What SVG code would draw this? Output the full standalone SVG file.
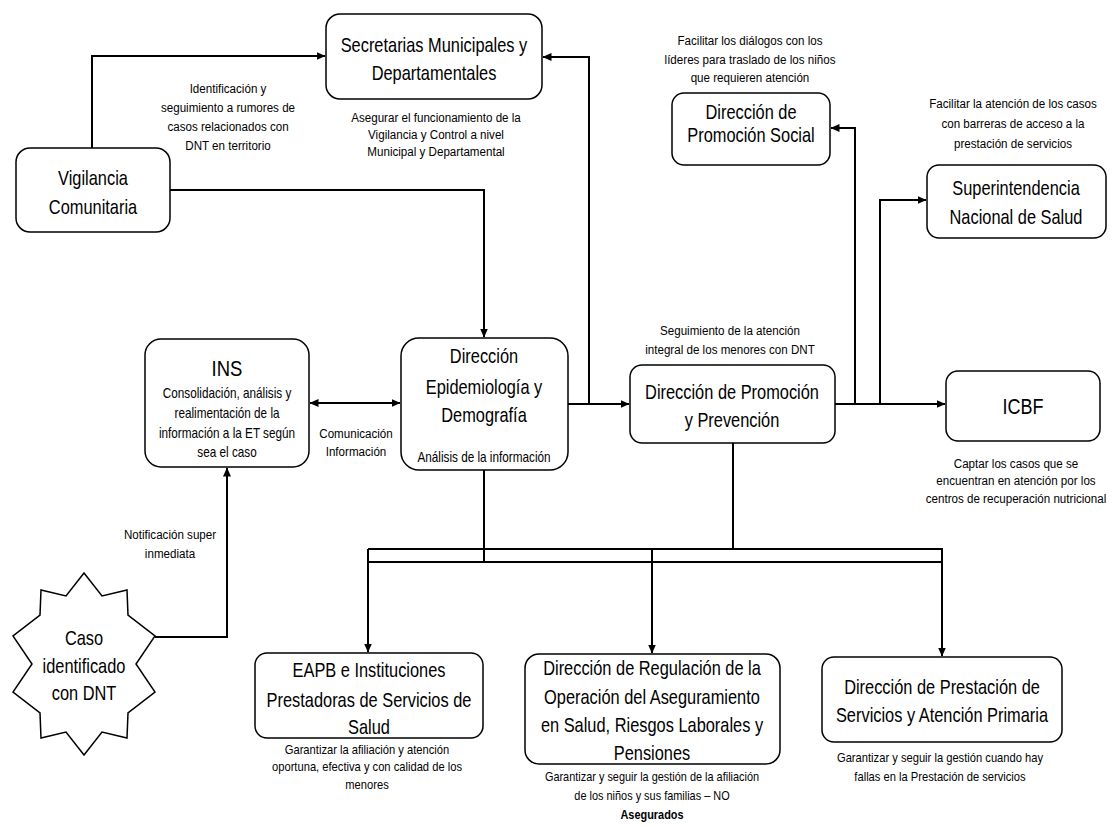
<svg xmlns="http://www.w3.org/2000/svg" width="1115" height="827" viewBox="0 0 1115 827">
<defs>
<marker id="ah" markerWidth="9" markerHeight="8" refX="8.5" refY="4" orient="auto-start-reverse" markerUnits="userSpaceOnUse">
<path d="M0,0 L9,4 L0,8 Z" fill="#000"/>
</marker>
<style>
text{font-family:"Liberation Sans",Arial,sans-serif;fill:#000;text-anchor:middle}
.box{fill:#fff;stroke:#000;stroke-width:1.5}
.t{font-size:20px}
.tl{font-size:22px}
.s{font-size:14px}
.c{font-size:13.5px}
.cb{font-size:13px}
.ln{fill:none;stroke:#000;stroke-width:2}
.ar{marker-end:url(#ah)}
</style>
</defs>
<rect width="1115" height="827" fill="#fff"/>

<g id="connectors">
<path class="ln ar" d="M92,148 V56 H325"/>
<path class="ln ar" d="M170,190 H484 V337"/>
<path class="ln ar" d="M567,404 H629"/>
<path class="ln ar" d="M589,404 V57 H543"/>
<path class="ln ar" d="M310,403 H400" marker-start="url(#ah)"/>
<path class="ln ar" d="M155,637 H227 V468"/>
<path class="ln ar" d="M835,404 H945"/>
<path class="ln ar" d="M855,404 V128 H831"/>
<path class="ln ar" d="M880,404 V200 H926"/>
<path class="ln" d="M733,443 V549"/>
<path class="ln" d="M484,470 V562"/>
<path class="ln" d="M368,549 H943"/>
<path class="ln" d="M368,562 H943"/>
<path class="ln ar" d="M368,549 V652"/>
<path class="ln ar" d="M652,549 V653"/>
<path class="ln ar" d="M942,549 V656"/>
</g>

<g id="lbl-vigilancia" transform="translate(228 0) scale(0.86 1)">
<text class="c" y="93">Identificación y</text>
<text class="c" y="112">seguimiento a rumores de</text>
<text class="c" y="131">casos relacionados con</text>
<text class="c" y="150">DNT en territorio</text>
</g>
<g id="lbl-comunicacion" transform="translate(356 0) scale(0.86 1)">
<text class="c" y="438">Comunicación</text>
<text class="c" y="456">Información</text>
</g>
<g id="lbl-notificacion" transform="translate(170 0) scale(0.86 1)">
<text class="c" y="539">Notificación super</text>
<text class="c" y="558">inmediata</text>
</g>

<g id="secretarias">
<rect class="box" x="326" y="14" width="216" height="85" rx="14"/>
<g transform="translate(434 0) scale(0.82 1)">
<text class="t" y="52">Secretarias Municipales y</text>
<text class="t" y="80">Departamentales</text>
</g>
<g transform="translate(436 0) scale(0.86 1)">
<text class="c" y="122">Asegurar el funcionamiento de la</text>
<text class="c" y="139">Vigilancia y Control a nivel</text>
<text class="c" y="156">Municipal y Departamental</text>
</g>
</g>

<g id="vigilancia">
<rect class="box" x="16" y="148" width="154" height="84" rx="14"/>
<g transform="translate(93 0) scale(0.82 1)">
<text class="t" y="185">Vigilancia</text>
<text class="t" y="214">Comunitaria</text>
</g>
</g>

<g id="promocion-social">
<g transform="translate(750 0) scale(0.86 1)">
<text class="c" y="45">Facilitar los diálogos con los</text>
<text class="c" y="64">líderes para traslado de los niños</text>
<text class="c" y="82">que requieren atención</text>
</g>
<rect class="box" x="672" y="93" width="158" height="72" rx="12"/>
<g transform="translate(751 0) scale(0.82 1)">
<text class="t" y="119">Dirección de</text>
<text class="t" y="142">Promoción Social</text>
</g>
</g>

<g id="superintendencia">
<g transform="translate(1013 0) scale(0.86 1)">
<text class="c" y="108">Facilitar la atención de los casos</text>
<text class="c" y="128">con barreras de acceso a la</text>
<text class="c" y="148">prestación de servicios</text>
</g>
<rect class="box" x="927" y="165" width="179" height="73" rx="12"/>
<g transform="translate(1016 0) scale(0.82 1)">
<text class="t" y="195">Superintendencia</text>
<text class="t" y="224">Nacional de Salud</text>
</g>
</g>

<g id="ins">
<rect class="box" x="145" y="339" width="164" height="128" rx="16"/>
<g transform="translate(227 0) scale(0.84 1)">
<text class="tl" y="376">INS</text>
<text class="s" y="398">Consolidación, análisis y</text>
<text class="s" y="418">realimentación  de la</text>
<text class="s" y="438">información a la ET según</text>
<text class="s" y="457">sea el caso</text>
</g>
</g>

<g id="epidemiologia">
<rect class="box" x="401" y="338" width="167" height="132" rx="18"/>
<g transform="translate(484 0) scale(0.82 1)">
<text class="t" y="363">Dirección</text>
<text class="t" y="394">Epidemiología y</text>
<text class="t" y="422">Demografía</text>
</g>
<g transform="translate(484 0) scale(0.84 1)">
<text class="s" y="462">Análisis de la información</text>
</g>
</g>

<g id="promocion-prevencion">
<g transform="translate(730 0) scale(0.86 1)">
<text class="c" y="335">Seguimiento de la atención</text>
<text class="c" y="354">integral de los menores con DNT</text>
</g>
<rect class="box" x="630" y="365" width="205" height="78" rx="12"/>
<g transform="translate(732 0) scale(0.82 1)">
<text class="t" y="399">Dirección de Promoción</text>
<text class="t" y="427">y Prevención</text>
</g>
</g>

<g id="icbf">
<rect class="box" x="946" y="371" width="154" height="70" rx="12"/>
<g transform="translate(1023 0) scale(0.82 1)">
<text class="tl" y="414">ICBF</text>
</g>
<g transform="translate(1016 0) scale(0.86 1)">
<text class="c" y="468">Captar los casos que se</text>
<text class="c" y="485">encuentran en atención por los</text>
<text class="c" y="503">centros de recuperación nutricional</text>
</g>
</g>

<g id="caso">
<polygon class="box" points="84,573 102,596 127,590 128,615 155,636 136,664 155,692 128,713 127,738 102,732 84,755 66,732 41,738 40,713 13,692 32,664 13,636 40,615 41,590 66,596"/>
<g transform="translate(84 0) scale(0.82 1)">
<text class="t" y="645">Caso</text>
<text class="t" y="673">identificado</text>
<text class="t" y="700">con DNT</text>
</g>
</g>

<g id="eapb">
<rect class="box" x="255" y="653" width="228" height="85" rx="12"/>
<g transform="translate(369 0) scale(0.82 1)">
<text class="t" y="677">EAPB e Instituciones</text>
<text class="t" y="707">Prestadoras de Servicios de</text>
<text class="t" y="734">Salud</text>
</g>
<g transform="translate(367 0) scale(0.86 1)">
<text class="cb" y="754">Garantizar la afiliación y atención</text>
<text class="cb" y="771">oportuna, efectiva y con calidad de los</text>
<text class="cb" y="789">menores</text>
</g>
</g>

<g id="regulacion">
<rect class="box" x="525" y="654" width="255" height="110" rx="14"/>
<g transform="translate(652 0) scale(0.82 1)">
<text class="t" y="675">Dirección de Regulación de la</text>
<text class="t" y="704">Operación del Aseguramiento</text>
<text class="t" y="732">en Salud, Riesgos Laborales y</text>
<text class="t" y="760">Pensiones</text>
</g>
<g transform="translate(652 0) scale(0.84 1)">
<text class="cb" y="781">Garantizar y seguir la gestión de la afiliación</text>
<text class="cb" y="800">de los niños y sus familias – NO</text>
<text class="cb" y="819" font-weight="bold">Asegurados</text>
</g>
</g>

<g id="prestacion">
<rect class="box" x="822" y="657" width="240" height="85" rx="12"/>
<g transform="translate(942 0) scale(0.82 1)">
<text class="t" y="694">Dirección de Prestación de</text>
<text class="t" y="722">Servicios y Atención Primaria</text>
</g>
<g transform="translate(940 0) scale(0.86 1)">
<text class="cb" y="762">Garantizar y seguir la gestión cuando hay</text>
<text class="cb" y="781">fallas en la Prestación de servicios</text>
</g>
</g>
</svg>
